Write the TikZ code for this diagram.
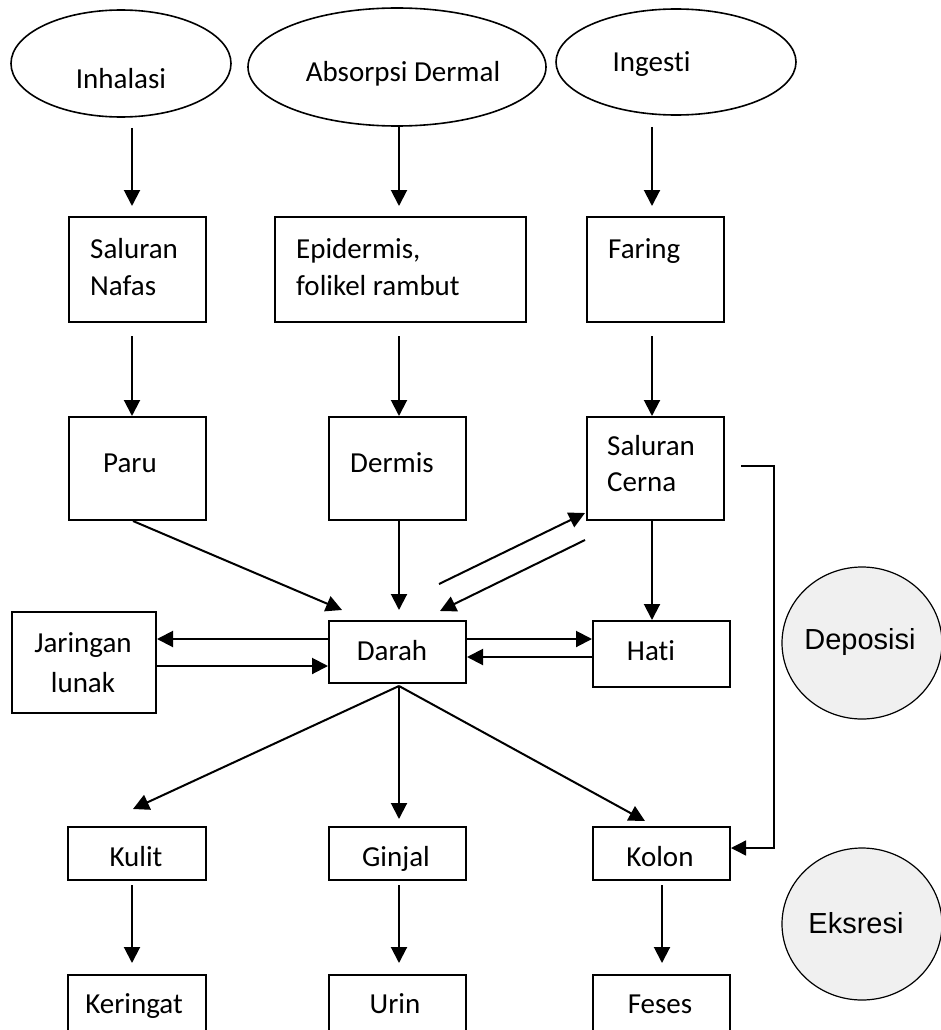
\documentclass[tikz,border=0pt]{standalone}
\usepackage{fontspec}
\setmainfont{Carlito}[Ligatures=NoCommon]
\newfontfamily\arialf{Liberation Sans}
\usetikzlibrary{shapes.geometric,arrows.meta}
\definecolor{bubble}{RGB}{240,240,240}
\tikzset{
  box/.style={draw, line width=2pt, rectangle, inner sep=0pt},
  oval/.style={draw, line width=1.6pt, ellipse, inner sep=0pt},
  bubblenode/.style={draw, line width=1.2pt, ellipse, fill=bubble, inner sep=0pt},
  lbl/.style={inner sep=0pt, anchor=base, font=\fontsize{29}{35}\selectfont},
  lbll/.style={lbl, anchor=base west},
  arr/.style={line width=2pt, -{Triangle[length=16pt,width=16pt]}},
  thinarr/.style={line width=1.4pt, -{Triangle[length=15pt,width=15pt]}},
}
\begin{document}
\begin{tikzpicture}[x=1pt,y=-1pt]
\useasboundingbox (0,0) rectangle (941,1030);
\clip (0,0) rectangle (941,1030);

% exposure routes
\node[oval, minimum width=220pt, minimum height=107pt] (inh) at (121,63.5) {};
\node[oval, minimum width=298pt, minimum height=118pt] (abs) at (397,67) {};
\node[oval, minimum width=240pt, minimum height=106pt] (ing) at (676,62) {};
\node[lbl] (tinh) at (121,89) {Inhalasi};
\node[lbl] (tabs) at (403,82) {Absorpsi Dermal};
\node[lbl] (ting) at (651.5,72) {Ingesti};

% entry sites
\node[box, minimum width=137pt, minimum height=105pt] (snf) at (137.5,269.5) {};
\node[box, minimum width=251pt, minimum height=105pt] (epi) at (400.5,269.5) {};
\node[box, minimum width=137pt, minimum height=105pt] (far) at (655,269.5) {};
\node[lbll] (tsnf1) at (90,258) {Saluran};
\node[lbll] (tsnf2) at (90,295) {Nafas};
\node[lbll] (tepi1) at (296,258) {Epidermis,};
\node[lbll] (tepi2) at (296,295) {folikel rambut};
\node[lbll] (tfar) at (608,258) {Faring};

% absorbing organs
\node[box, minimum width=137pt, minimum height=103pt] (paru) at (137.5,468.5) {};
\node[box, minimum width=137pt, minimum height=103pt] (derm) at (397.5,468.5) {};
\node[box, minimum width=137pt, minimum height=103pt] (scer) at (655.5,468.5) {};
\node[lbl] (tparu) at (130,472) {Paru};
\node[lbl] (tderm) at (392,472) {Dermis};
\node[lbll] (tscer1) at (607,455) {Saluran};
\node[lbll] (tscer2) at (607,491) {Cerna};

% distribution
\node[box, minimum width=137pt, minimum height=62pt]  (darah) at (397.5,652) {};
\node[box, minimum width=137pt, minimum height=66pt]  (hati)  at (661.5,654) {};
\node[box, minimum width=144pt, minimum height=101pt] (jar)   at (84,662.5) {};
\node[lbl] (tdarah) at (392,660) {Darah};
\node[lbl] (thati) at (651,660) {Hati};
\node[lbl] (tjar1) at (83,652) {Jaringan};
\node[lbl] (tjar2) at (83,692) {lunak};

% excretion organs
\node[box, minimum width=138pt, minimum height=53pt] (kulit)  at (137,853.5) {};
\node[box, minimum width=137pt, minimum height=53pt] (ginjal) at (397.5,853.5) {};
\node[box, minimum width=137pt, minimum height=53pt] (kolon)  at (661.5,853.5) {};
\node[lbl] (tkulit) at (136,866) {Kulit};
\node[lbl] (tginjal) at (396,866) {Ginjal};
\node[lbl] (tkolon) at (660,866) {Kolon};

% products
\node[box, minimum width=138pt, minimum height=80pt] (keri) at (137,1015) {};
\node[box, minimum width=137pt, minimum height=80pt] (urin) at (397.5,1015) {};
\node[box, minimum width=137pt, minimum height=80pt] (feses) at (661.5,1015) {};
\node[lbl] (tkeri) at (134,1013) {Keringat};
\node[lbl] (turin) at (395,1013) {Urin};
\node[lbl] (tfeses) at (660,1013) {Feses};

% stage bubbles
\node[bubblenode, minimum width=160pt, minimum height=152pt] (depo) at (862,643) {};
\node[bubblenode, minimum width=160pt, minimum height=152pt] (eks) at (862,924) {};
\node[lbl, font=\arialf\fontsize{29}{35}\selectfont] (tdepo) at (860,649) {Deposisi};
\node[lbl, font=\arialf\fontsize{29}{35}\selectfont] (teks) at (856,933) {Eksresi};

% route -> entry site
\draw[arr] ([shift={(11,10)}]inh.south) -- ([shift={(-5.5,-10)}]snf.north);
\draw[arr] ([shift={(2,0)}]abs.south) -- ([shift={(-1.5,-10)}]epi.north);
\draw[arr] ([shift={(-24,11)}]ing.south) -- ([shift={(-3,-10)}]far.north);

% entry site -> organ
\draw[arr] ([shift={(-5.5,13)}]snf.south) -- ([xshift=-5.5pt]paru.north);
\draw[arr] ([shift={(-1.5,13)}]epi.south) -- ([xshift=1.5pt]derm.north);
\draw[arr] ([shift={(-3,13)}]far.south) -- ([xshift=-3.5pt]scer.north);

% organ -> blood
\draw[arr] ([xshift=-4.5pt]paru.south) -- ([shift={(14,-10)}]darah.north west);
\draw[arr] ([xshift=1.5pt]derm.south) -- ([shift={(1.5,-10)}]darah.north);
\draw[arr] ([shift={(-28,-36)}]darah.north east) -- ([shift={(-1,-8)}]scer.south west);
\draw[arr] ([shift={(-1,19)}]scer.south west) -- ([shift={(-27,-9)}]darah.north east);
\draw[arr] ([xshift=-3.5pt]scer.south) -- ([xshift=-9.5pt]hati.north);

% blood <-> liver, soft tissue
\draw[arr] ([shift={(0,-13)}]darah.east) -- ([shift={(0,-15)}]hati.west);
\draw[arr] ([shift={(0,3)}]hati.west) -- ([shift={(0,5)}]darah.east);
\draw[arr] ([shift={(0,-13)}]darah.west) -- ([shift={(0,-23.5)}]jar.east);
\draw[arr] ([shift={(0,3.5)}]jar.east) -- ([shift={(0,14)}]darah.west);

% blood -> excretion organs
\coordinate (fan) at ([shift={(1.5,2)}]darah.south);
\draw[arr] (fan) -- ([shift={(-4,-17)}]kulit.north);
\draw[arr] (fan) -- ([shift={(1.5,-7)}]ginjal.north);
\draw[arr] (fan) -- ([shift={(-16.5,-5)}]kolon.north);

% excretion organ -> product
\draw[arr] ([shift={(-5,4)}]kulit.south) -- ([shift={(-5,-11)}]keri.north);
\draw[arr] ([shift={(1.5,4)}]ginjal.south) -- ([shift={(1.5,-11)}]urin.north);
\draw[arr] ([shift={(0.5,4)}]kolon.south) -- ([shift={(0.5,-11)}]feses.north);

% gut bypass to colon
\draw[thinarr] ([shift={(16,-2.5)}]scer.east) -- ++(33,0) |- ([yshift=5.5pt]kolon.east);
\end{tikzpicture}
\end{document}
